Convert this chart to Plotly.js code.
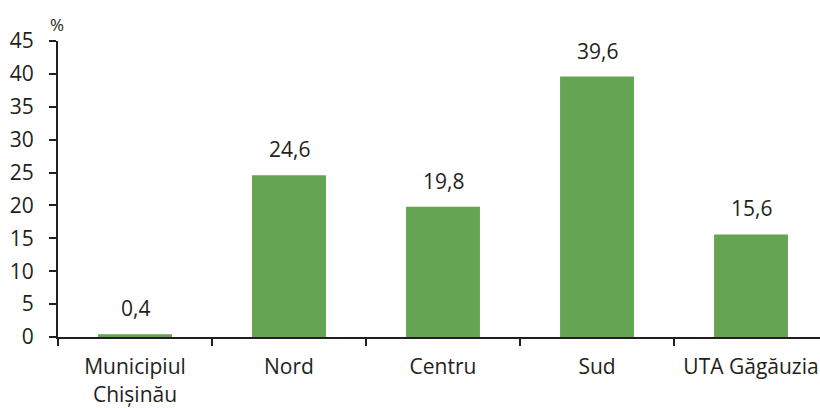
<!DOCTYPE html>
<html><head><meta charset="utf-8">
<script src="https://cdn.plot.ly/plotly-3.0.1.min.js"></script>
<style>html,body{margin:0;padding:0;background:#fff}#c{width:820px;height:408px}</style>
</head><body><div id="c"></div>
<script>
const categories = ["Municipiul<br>Chișinău", "Nord", "Centru", "Sud", "UTA Găgăuzia"];
const values = [0.4, 24.6, 19.8, 39.6, 15.6];
const yTicks = [0, 5, 10, 15, 20, 25, 30, 35, 40, 45];
const unitLabel = "%";

const ink = "#231f20";
const font = {family: "Open Sans, Noto Sans, sans-serif", size: 21, color: ink};

Plotly.newPlot("c", [{
  type: "bar",
  x: categories,
  y: values,
  width: 0.48,
  marker: {color: "#65a453"},
  hoverinfo: "skip"
}], {
  width: 820, height: 408,
  margin: {l: 58, r: 0, t: 41, b: 71},
  paper_bgcolor: "#fff", plot_bgcolor: "#fff",
  font: font,
  showlegend: false,
  xaxis: {
    type: "category",
    range: [-0.5, 4.448],
    showline: true, linecolor: ink, linewidth: 2,
    ticks: "outside", tickson: "boundaries", ticklen: 7, tickcolor: ink, tickwidth: 2,
    tickfont: font, ticklabelstandoff: 10,
    showgrid: false, zeroline: false, fixedrange: true
  },
  yaxis: {
    range: [0, 45],
    tickvals: yTicks,
    showline: true, linecolor: ink, linewidth: 2,
    ticks: "outside", ticklen: 7, tickcolor: ink, tickwidth: 2,
    tickfont: font, ticklabelstandoff: 11,
    showgrid: false, zeroline: false, fixedrange: true
  },
  annotations: values.map((v, i) => ({
    x: categories[i], y: v, xref: "x", yref: "y",
    xanchor: "center", yanchor: "bottom", yshift: 10,
    text: v.toFixed(1).replace(".", ","), showarrow: false, font: font
  })).concat([{
    xref: "paper", yref: "paper", x: 0, y: 1, xanchor: "center", yanchor: "bottom",
    xshift: -1, yshift: 3,
    text: unitLabel, showarrow: false, font: {family: font.family, size: 17, color: ink}
  }])
}, {displayModeBar: false, staticPlot: true});
</script></body></html>
